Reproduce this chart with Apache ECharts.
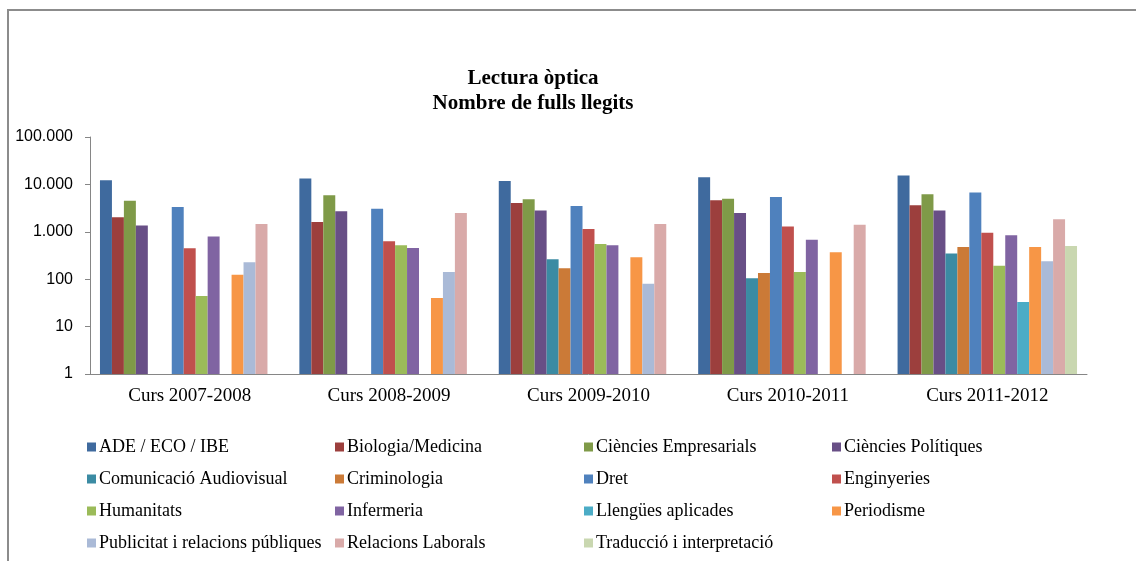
<html>
<head>
<meta charset="utf-8">
<title>Lectura òptica</title>
<script src="https://cdn.jsdelivr.net/npm/echarts@6/dist/echarts.min.js"></script>
</head>
<body style="margin:0">
<div id="chart" style="width: 1136px; height: 561px;"></div>
<script>
var cursos = ['Curs 2007-2008', 'Curs 2008-2009', 'Curs 2009-2010', 'Curs 2010-2011', 'Curs 2011-2012'];
var yTicks = [1, 10, 100, 1000, 10000, 100000];

// values per study, one per course (null = no bar)
var ade = [12300, 13400, 11800, 14100, 15500];
var biologia = [2020, 1610, 4050, 4620, 3630];
var empresarials = [4540, 5900, 4850, 5000, 6200];
var politiques = [1350, 2700, 2820, 2490, 2820];
var comunicacio = [null, null, 263, 105, 350];
var criminologia = [null, null, 170, 135, 478];
var dret = [3330, 3080, 3500, 5420, 6770];
var enginyeries = [450, 630, 1150, 1300, 960];
var humanitats = [44, 519, 550, 142, 193];
var infermeria = [800, 455, 520, 680, 843];
var llengues = [null, null, null, null, 33];
var periodisme = [124, 40, 290, 370, 478];
var publicitat = [227, 142, 80, null, 239];
var laborals = [1460, 2490, 1460, 1410, 1840];
var traduccio = [null, null, null, null, 500];

var series = [
    { name: 'ADE / ECO / IBE', data: ade, color: '#3F6A9E' },
    { name: 'Biologia/Medicina', data: biologia, color: '#9C3F3D' },
    { name: 'Ciències Empresarials', data: empresarials, color: '#7F9A48' },
    { name: 'Ciències Polítiques', data: politiques, color: '#684F86' },
    { name: 'Comunicació Audiovisual', data: comunicacio, color: '#3B8BA3' },
    { name: 'Criminologia', data: criminologia, color: '#CB7A37' },
    { name: 'Dret', data: dret, color: '#4F81BD' },
    { name: 'Enginyeries', data: enginyeries, color: '#C0504D' },
    { name: 'Humanitats', data: humanitats, color: '#9BBB59' },
    { name: 'Infermeria', data: infermeria, color: '#8064A2' },
    { name: 'Llengües aplicades', data: llengues, color: '#4BACC6' },
    { name: 'Periodisme', data: periodisme, color: '#F79646' },
    { name: 'Publicitat i relacions públiques', data: publicitat, color: '#AABAD7' },
    { name: 'Relacions Laborals', data: laborals, color: '#D9AAA9' },
    { name: 'Traducció i interpretació', data: traduccio, color: '#C9D7B0' }
];

var serif = '"Liberation Serif", "DejaVu Serif", serif';

function legendCol(names, left) {
    return {
        data: names,
        orient: 'vertical',
        left: left,
        top: 438,
        padding: 0,
        itemWidth: 9,
        itemHeight: 9,
        itemGap: 14,
        icon: 'rect',
        selectedMode: false,
        textStyle: { fontFamily: serif, fontSize: 18, color: '#000', lineHeight: 18, padding: [0, 0, 0, -2] }
    };
}
var n = series.map(function (s) { return s.name; });

window.onload = function () {
    var myChart = echarts.init(document.getElementById('chart'));
    var option = {
        animation: false,
        backgroundColor: '#fff',
        title: {
            text: 'Lectura òptica\nNombre de fulls llegits',
            left: 528,
            textAlign: 'center',
            top: 61,
            textStyle: { fontFamily: serif, fontSize: 21, fontWeight: 'bold', color: '#000', lineHeight: 25 }
        },
        graphic: [{
            type: 'rect',
            shape: { x: 8, y: 10, width: 1140, height: 560 },
            style: { fill: null, stroke: '#8c8c8c', lineWidth: 2 },
            silent: true
        }],
        legend: [
            legendCol([n[0], n[4], n[8], n[12]], 87),
            legendCol([n[1], n[5], n[9], n[13]], 335),
            legendCol([n[2], n[6], n[10], n[14]], 584),
            legendCol([n[3], n[7], n[11]], 832)
        ],
        grid: { left: 90, right: 49, top: 137, bottom: 187 },
        xAxis: {
            type: 'category',
            data: cursos,
            axisLine: { lineStyle: { color: '#868686' } },
            axisTick: { length: 6, lineStyle: { color: '#868686' } },
            axisLabel: { margin: 13, fontFamily: serif, fontSize: 19, color: '#000' }
        },
        yAxis: {
            type: 'log',
            logBase: 10,
            min: yTicks[0],
            max: yTicks[yTicks.length - 1],
            axisLine: { show: true, lineStyle: { color: '#868686' } },
            axisTick: { show: true, length: 5, lineStyle: { color: '#868686' } },
            splitLine: { show: false },
            axisLabel: {
                margin: 17,
                fontFamily: '"Liberation Sans", "DejaVu Sans", sans-serif',
                fontSize: 16,
                color: '#000',
                formatter: function (v) {
                    return String(Math.round(v)).replace(/\B(?=(\d{3})+(?!\d))/g, '.');
                }
            }
        },
        series: series.map(function (s) {
            return {
                name: s.name,
                type: 'bar',
                data: s.data,
                barGap: 0,
                barCategoryGap: '10%',
                itemStyle: { color: s.color }
            };
        })
    };
    myChart.setOption(option);
};
</script>
</body>
</html>
